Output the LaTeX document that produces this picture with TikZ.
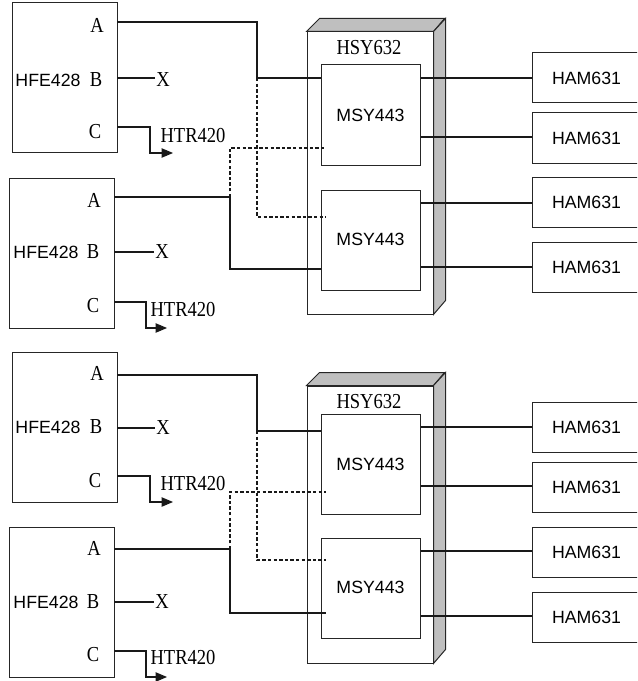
\documentclass[tikz,border=0pt]{standalone}
\usepackage{fontspec}
\setmainfont{Liberation Sans}
\newfontfamily\serf[FakeStretch=0.87]{Liberation Serif}
\usetikzlibrary{arrows.meta}
\tikzset{
  ln/.style={line width=0.8pt, draw=black!90},
  bx/.style={draw=black!85, line width=0.75pt, inner sep=0pt, fill=white},
  hfe/.style={bx, minimum width=78.75pt, minimum height=112.5pt},
  msy/.style={bx, minimum width=74.25pt, minimum height=75pt},
  ham/.style={bx, anchor=west, minimum width=81pt, minimum height=37.5pt, font=\fontsize{13.3}{15}\selectfont, align=center},
  ser/.style={font=\serf\fontsize{16}{18}\selectfont, inner sep=1pt},
  ari/.style={font=\fontsize{13.3}{15}\selectfont, inner sep=1pt},
  dsh/.style={ln, dash pattern=on 2.6pt off 1.6pt},
  arr/.style={ln, -{Triangle[length=8.5pt,width=7pt]}},
  side/.style={draw=black!85, line width=0.75pt, fill=black!25},
}
\begin{document}
\begin{tikzpicture}[x=0.75pt,y=-0.75pt]
\useasboundingbox (0,0) rectangle (637,681);
\clip (0,0) rectangle (637,681);

% ================= TOP HALF =================
% HSY632 housing
\node[bx, minimum width=94.5pt, minimum height=211.5pt] (s1) at (370,173) {};
\draw[side] (s1.north west) -- ++(13,-13) -- ++(125,0) -- (s1.north east) -- cycle;
\draw[side] (s1.north east) -- ++(12,-13) -- ++(0,282) -- (s1.south east) -- cycle;
\node[ser] (s1l) at (369,48) {HSY632};
% MSY443
\node[msy] (m1) at (370.5,115) {};
\node[ari] at (370.5,115) {MSY443};
\node[msy] (m2) at (370.5,240) {};
\node[ari] at (370.5,239) {MSY443};
% HAM631
\node[ham] (r1) at (532,78) {HAM631};
\node[ham] (r2) at (532,138) {HAM631};
\node[ham] (r3) at (532,202) {HAM631};
\node[ham] (r4) at (532,267) {HAM631};
\draw[ln] (m1.east |- 0,78) -- (r1.west |- 0,78);
\draw[ln] (m1.east |- 0,137) -- (r2.west |- 0,137);
\draw[ln] (m2.east |- 0,203) -- (r3.west |- 0,203);
\draw[ln] (m2.east |- 0,267) -- (r4.west |- 0,267);
% HFE428 #1
\node[hfe] (h1) at (64.5,78) {};
\node[ari] at (48,80) {HFE428};
\node[ser] at (97,25) {A};
\node[ser] at (96,80) {B};
\node[ser] at (95,132) {C};
\coordinate (h1A) at (117,22);
\coordinate (h1B) at (117,78);
\coordinate (h1C) at (117,127);
\node[ser] (x1) at (163,80) {X};
\node[ser] (t1) at (193,136) {HTR420};
\coordinate (j1) at (257,78);
\coordinate (d1) at (326,217);
\coordinate (e1) at (173,153);
\draw[ln] (h1A) -| (j1) -- (m1.west |- j1);
\draw[ln] (h1B) -- (x1.west |- h1B);
\draw[arr] (h1C) -| (150,153) -- (e1);
% HFE428 #2
\node[hfe] (h2) at (61.5,253) {};
\node[ari] at (46,252) {HFE428};
\node[ser] at (94,200) {A};
\node[ser] at (93,252) {B};
\node[ser] at (93,306) {C};
\coordinate (h2A) at (114,197);
\coordinate (h2B) at (114,252);
\coordinate (h2C) at (114,302);
\node[ser] (x2) at (162,252) {X};
\node[ser] (t2) at (183,310) {HTR420};
\coordinate (j2) at (230,197);
\coordinate (k2) at (230,269);
\coordinate (d2) at (326,148);
\coordinate (e2) at (167,328);
\draw[ln] (h2A) -- (j2) -- (k2) -- (m2.west |- k2);
\draw[ln] (h2B) -- (x2.west |- h2B);
\draw[arr] (h2C) -| (146,328) -- (e2);
\draw[dsh] (j1) |- (d1);
\draw[dsh] (j2) |- (d2);

% ================= BOTTOM HALF =================
\node[bx, minimum width=94.5pt, minimum height=207.75pt] (s2) at (370,524.5) {};
\draw[side] (s2.north west) -- ++(13,-13) -- ++(125,0) -- (s2.north east) -- cycle;
\draw[side] (s2.north east) -- ++(12,-13) -- ++(0,277) -- (s2.south east) -- cycle;
\node[ser] (s2l) at (369,402) {HSY632};
\node[msy] (m3) at (370.5,464) {};
\node[ari] at (370.5,464) {MSY443};
\node[msy] (m4) at (370.5,588.5) {};
\node[ari] at (370.5,587) {MSY443};
\node[ham] (r5) at (532,427) {HAM631};
\node[ham] (r6) at (532,487) {HAM631};
\node[ham] (r7) at (532,552) {HAM631};
\node[ham] (r8) at (532,617) {HAM631};
\draw[ln] (m3.east |- 0,427) -- (r5.west |- 0,427);
\draw[ln] (m3.east |- 0,486) -- (r6.west |- 0,486);
\draw[ln] (m4.east |- 0,551) -- (r7.west |- 0,551);
\draw[ln] (m4.east |- 0,616) -- (r8.west |- 0,616);
% HFE428 #3
\node[hfe] (h3) at (64.5,427) {};
\node[ari] at (48,427) {HFE428};
\node[ser] at (97,373) {A};
\node[ser] at (96,427) {B};
\node[ser] at (95,481) {C};
\coordinate (h3A) at (117,375);
\coordinate (h3B) at (117,428);
\coordinate (h3C) at (117,476);
\node[ser] (x3) at (163,428) {X};
\node[ser] (t3) at (193,484) {HTR420};
\coordinate (j3) at (257,431);
\coordinate (d3) at (326,560);
\coordinate (e3) at (173,502);
\draw[ln] (h3A) -| (j3) -- (m3.west |- j3);
\draw[ln] (h3B) -- (x3.west |- h3B);
\draw[arr] (h3C) -| (150,502) -- (e3);
% HFE428 #4
\node[hfe] (h4) at (61.5,602) {};
\node[ari] at (46,602) {HFE428};
\node[ser] at (94,548) {A};
\node[ser] at (93,602) {B};
\node[ser] at (93,655) {C};
\coordinate (h4A) at (114,549);
\coordinate (h4B) at (114,602);
\coordinate (h4C) at (114,651);
\node[ser] (x4) at (162,602) {X};
\node[ser] (t4) at (183,658) {HTR420};
\coordinate (j4) at (230,549);
\coordinate (k4) at (230,613);
\coordinate (d4) at (326,492);
\coordinate (e4) at (167,677);
\draw[ln] (h4A) -- (j4) -- (k4) -- (326,613);
\draw[ln] (h4B) -- (x4.west |- h4B);
\draw[arr] (h4C) -| (146,677) -- (e4);
\draw[dsh] (j3) |- (d3);
\draw[dsh] (j4) |- (d4);
\end{tikzpicture}
\end{document}
